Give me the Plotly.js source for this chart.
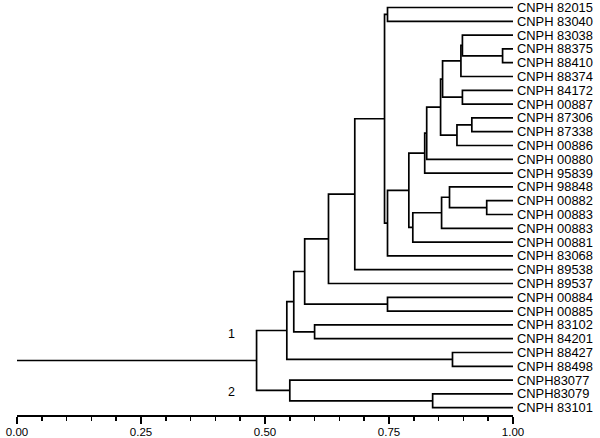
<!DOCTYPE html>
<html>
<head>
<meta charset="utf-8">
<script src="https://cdn.plot.ly/plotly-3.0.1.min.js"></script>
<style>html,body{margin:0;padding:0;background:#fff;}#chart{width:600px;height:438px;}</style>
</head>
<body>
<div id="chart"></div>
<script>
// Leaf labels, top to bottom
const leafLabels = [
  "CNPH 82015","CNPH 83040","CNPH 83038","CNPH 88375","CNPH 88410","CNPH 88374",
  "CNPH 84172","CNPH 00887","CNPH 87306","CNPH 87338","CNPH 00886","CNPH 00880",
  "CNPH 95839","CNPH 98848","CNPH 00882","CNPH 00883","CNPH 00883","CNPH 00881",
  "CNPH 83068","CNPH 89538","CNPH 89537","CNPH 00884","CNPH 00885","CNPH 83102",
  "CNPH 84201","CNPH 88427","CNPH 88498","CNPH83077","CNPH83079","CNPH 83101"
];
// Merge table: ids < 30 are leaves, 30+k is merge k
const mergeLeft   = [3, 14, 8, 2, 6, 33, 32, 25, 13, 35, 39, 38, 28, 40, 43, 41, 44, 0, 21, 46, 47, 50, 51, 23, 52, 54, 27, 55, 57];
const mergeRight  = [4, 15, 9, 30, 7, 5, 10, 26, 31, 34, 36, 16, 29, 11, 12, 17, 45, 1, 22, 18, 49, 19, 20, 24, 48, 53, 42, 37, 56];
const mergeHeight = [0.979, 0.947, 0.917, 0.898, 0.898, 0.895, 0.887, 0.878, 0.872, 0.858, 0.854, 0.856, 0.838,
                     0.826, 0.822, 0.798, 0.790, 0.747, 0.747, 0.747, 0.741, 0.681, 0.628, 0.600, 0.580, 0.558,
                     0.550, 0.544, 0.483];
const xTickValues = [0, 0.25, 0.5, 0.75, 1];
const xTickLabels = ["0.00", "0.25", "0.50", "0.75", "1.00"];
const clusterNames = ["1", "2"];

const n = leafLabels.length;
const nodeY = [], nodeH = [];
for (let i = 0; i < n; i++) { nodeY[i] = i; nodeH[i] = 1.0; }
const xs = [], ys = [];
for (let k = 0; k < mergeLeft.length; k++) {
  const a = mergeLeft[k], b = mergeRight[k], h = mergeHeight[k];
  xs.push(nodeH[a], h, h, nodeH[b], null);
  ys.push(nodeY[a], nodeY[a], nodeY[b], nodeY[b], null);
  nodeY[n + k] = (nodeY[a] + nodeY[b]) / 2;
  nodeH[n + k] = h;
}
const root = n + mergeLeft.length - 1;
xs.push(0, nodeH[root]); ys.push(nodeY[root], nodeY[root]);

const trace = {
  x: xs, y: ys, mode: 'lines', type: 'scatter',
  line: {color: '#000', width: 1.7, shape: 'linear'},
  hoverinfo: 'skip', showlegend: false, connectgaps: false
};

const layout = {
  width: 600, height: 438,
  margin: {l: 17, r: 87, t: 0, b: 23, pad: 0},
  paper_bgcolor: '#fff', plot_bgcolor: '#fff',
  font: {family: '"Liberation Sans", Arial, sans-serif', color: '#000', size: 12},
  xaxis: {
    range: [0, 1], showgrid: false, zeroline: false,
    showline: true, linecolor: '#000', linewidth: 1.7,
    tickmode: 'array', tickvals: xTickValues, ticktext: xTickLabels,
    ticks: 'outside', ticklen: 7, tickwidth: 1.7, tickcolor: '#000',
    tickfont: {size: 11.5}, ticklabelstandoff: -2,
    minor: {dtick: 0.05, tick0: 0, ticks: 'outside', ticklen: 4, tickwidth: 1.7, tickcolor: '#000', showgrid: false}
  },
  yaxis: {
    range: [29.53, -0.543], side: 'right', showgrid: false, zeroline: false, showline: false,
    tickmode: 'array', tickvals: leafLabels.map((_, i) => i), ticktext: leafLabels,
    ticks: '', tickfont: {size: 12.9}, ticklabelstandoff: 3
  },
  annotations: [
    {x: 0.433, y: 23.66, xref: 'x', yref: 'y', text: clusterNames[0], showarrow: false, font: {size: 12.5}},
    {x: 0.433, y: 27.86, xref: 'x', yref: 'y', text: clusterNames[1], showarrow: false, font: {size: 12.5}}
  ]
};

Plotly.newPlot('chart', [trace], layout, {staticPlot: true, displayModeBar: false});
</script>
</body>
</html>
